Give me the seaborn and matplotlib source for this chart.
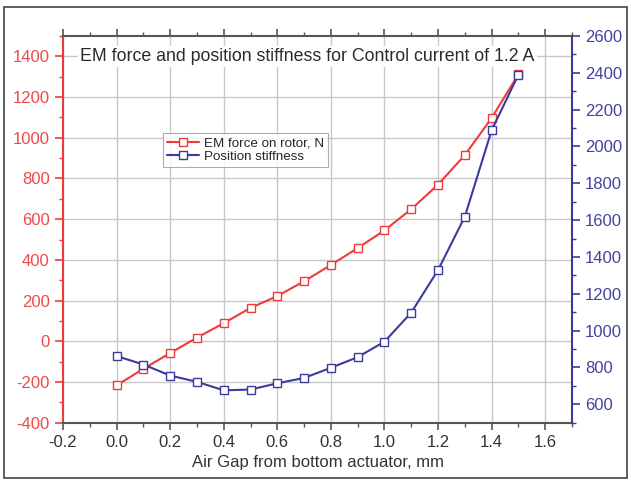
import matplotlib
matplotlib.use("Agg")
import matplotlib.pyplot as plt
from matplotlib.ticker import MultipleLocator
from matplotlib.lines import Line2D
from matplotlib.patches import Rectangle
import seaborn as sns
import pandas as pd

# ---- data ----
air_gap = [0.0, 0.1, 0.2, 0.3, 0.4, 0.5, 0.6, 0.7, 0.8, 0.9, 1.0, 1.1, 1.2, 1.3, 1.4, 1.5]
em_force = [-217, -135, -58, 18, 89, 164, 222, 295, 375, 458, 545, 649, 770, 915, 1097, 1312]
stiffness = [862, 816, 756, 722, 676, 680, 714, 743, 798, 856, 940, 1098, 1329, 1619, 2088, 2390]

title = "EM force and position stiffness for Control current of 1.2 A"
xlabel = "Air Gap from bottom actuator, mm"
label_force = "EM force on rotor, N"
label_stiff = "Position stiffness"

RED = "#f03a3a"
BLUE = "#3b3b9e"
RED_TXT = "#f04848"
BLUE_TXT = "#4242a0"
SPINE = "#555555"

sns.set_theme(style="white")
plt.rcParams["font.family"] = ["Liberation Sans", "DejaVu Sans"]
plt.rcParams["axes.unicode_minus"] = False

fig = plt.figure(figsize=(6.31, 4.83), dpi=100)
ax = fig.add_axes([63 / 631, 1 - 422.7 / 483, (572 - 63) / 631, (422.7 - 36) / 483])
ax2 = ax.twinx()

df = pd.DataFrame({"x": air_gap, "force": em_force, "stiff": stiffness})

sns.lineplot(data=df, x="x", y="force", ax=ax, color=RED, lw=1.5, marker="s",
             markersize=6, markerfacecolor="white", markeredgecolor=RED,
             markeredgewidth=1.0, legend=False)
sns.lineplot(data=df, x="x", y="stiff", ax=ax2, color=BLUE, lw=1.5, marker="s",
             markersize=6, markerfacecolor="white", markeredgecolor=BLUE,
             markeredgewidth=1.0, legend=False)

ax.set_xlim(-0.2, 1.7)
ax.set_ylim(-400, 1500)
ax2.set_ylim(500, 2600)

ax.xaxis.set_major_locator(MultipleLocator(0.2))
ax.xaxis.set_minor_locator(MultipleLocator(0.1))
ax.yaxis.set_major_locator(MultipleLocator(200))
ax.yaxis.set_minor_locator(MultipleLocator(100))
ax2.yaxis.set_major_locator(MultipleLocator(200))
ax2.yaxis.set_minor_locator(MultipleLocator(100))
ax2.set_yticks(list(range(600, 2601, 200)))

ax.grid(True, which="major", color="#c8c8c8", lw=1.0)
ax.set_axisbelow(True)

ax.set_xlabel(xlabel, fontsize=12, color="#333333", labelpad=4)
ax.set_ylabel("")
ax2.set_ylabel("")

for sp in ["top", "bottom"]:
    ax.spines[sp].set_color(SPINE)
    ax.spines[sp].set_linewidth(1.5)
ax.spines["left"].set_color(RED)
ax.spines["left"].set_linewidth(1.5)
ax2.spines["right"].set_color(BLUE)
ax2.spines["right"].set_linewidth(1.5)
ax2.spines["left"].set_visible(False)
ax2.spines["top"].set_visible(False)
ax2.spines["bottom"].set_visible(False)

ax.tick_params(axis="x", which="major", direction="out", length=5, width=1.2,
               color=SPINE, labelsize=12, labelcolor="#333333", bottom=True, top=True)
ax.tick_params(axis="x", which="minor", direction="out", length=3, width=1.0,
               color=SPINE, bottom=True, top=True)
ax.tick_params(axis="y", which="major", direction="out", length=6, width=1.2,
               color=RED, labelsize=12, labelcolor=RED_TXT, left=True)
ax.tick_params(axis="y", which="minor", direction="out", length=3, width=1.0,
               color=RED, left=True)
ax2.tick_params(axis="y", which="major", direction="out", length=6, width=1.2,
                color=BLUE, labelsize=12, labelcolor=BLUE_TXT, right=True)
ax2.tick_params(axis="y", which="minor", direction="out", length=3, width=1.0,
                color=BLUE, right=True)

ax.text(0.48, 1400, title, transform=ax.get_yaxis_transform(),
        ha="center", va="center", fontsize=12.8, color="#2a2a2a",
        bbox=dict(facecolor="white", edgecolor="none", pad=1.5), zorder=5)

handles = [
    Line2D([], [], color=RED, lw=1.5, marker="s", markersize=6,
           markerfacecolor="white", markeredgecolor=RED),
    Line2D([], [], color=BLUE, lw=1.5, marker="s", markersize=6,
           markerfacecolor="white", markeredgecolor=BLUE),
]
leg = ax.legend(handles, [label_force, label_stiff], loc="upper left",
                bbox_to_anchor=((163 - 63) / 509, 1 - (133 - 36) / 386.7),
                fontsize=9.6, frameon=True, fancybox=False, handlelength=2.4,
                handletextpad=0.35, borderpad=0.3, labelspacing=0.1,
                borderaxespad=0)
leg.get_frame().set_edgecolor("#999999")
leg.get_frame().set_linewidth(0.8)
leg.set_zorder(10)

fig.patches.append(Rectangle((4 / 631, 1 - 478 / 483), 623 / 631, 471 / 483,
                             transform=fig.transFigure, fill=False,
                             edgecolor="#444444", lw=1.2))

fig.savefig("out.png", dpi=100)
